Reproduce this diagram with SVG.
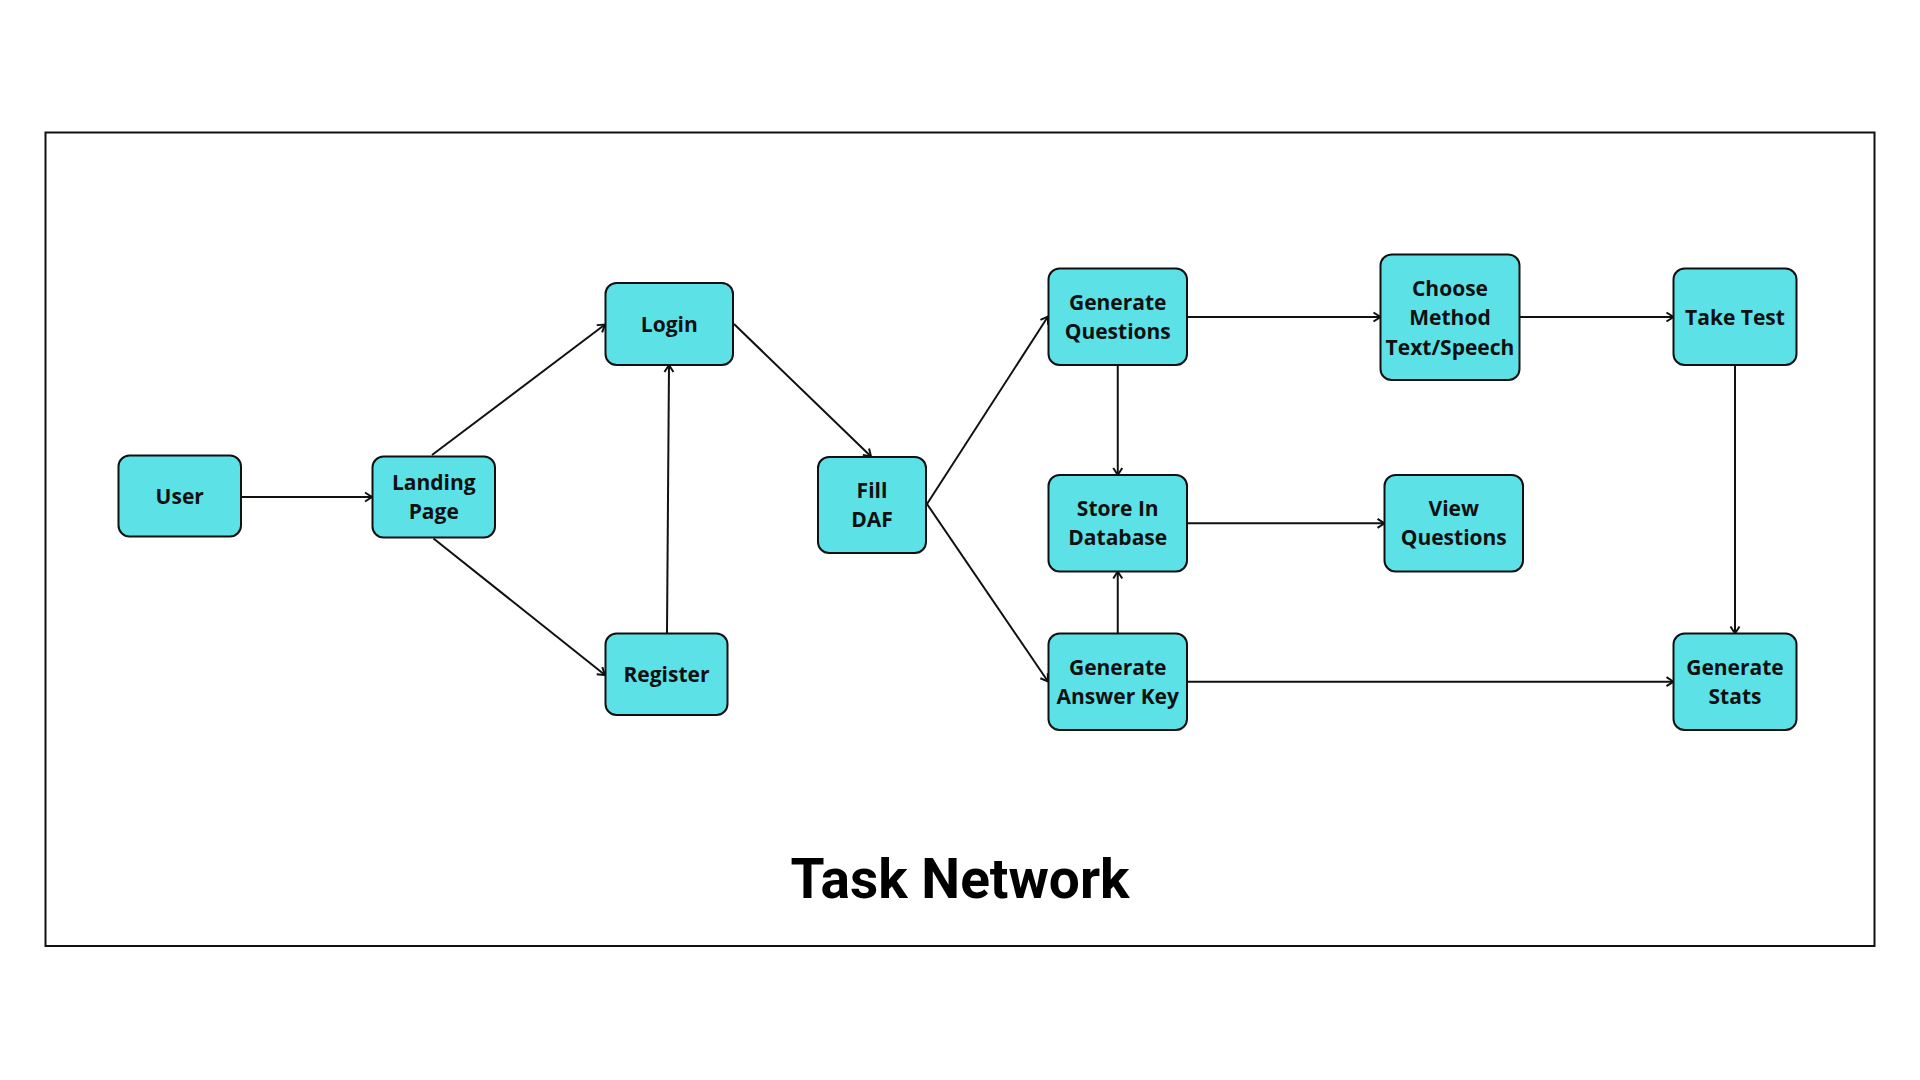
<svg xmlns="http://www.w3.org/2000/svg" width="1920" height="1080" viewBox="0 0 1920 1080">
<defs>
<marker id="arr" markerUnits="userSpaceOnUse" markerWidth="20" markerHeight="20" refX="0" refY="0" orient="auto" overflow="visible">
<path d="M-7,-4.5 L0,0 L-7,4.5" fill="none" stroke="#111" stroke-width="2" stroke-linejoin="miter"/>
</marker>
</defs>
<style>
.node rect{fill:#5ce1e6;stroke:#111;stroke-width:2}
.node text{font-family:"Open Sans","DejaVu Sans",sans-serif;font-weight:700;font-size:21px;fill:#111;text-anchor:middle}
.conn line{stroke:#111;stroke-width:2;marker-end:url(#arr)}
.title{font-family:Roboto,"Open Sans",sans-serif;font-weight:700;font-size:55px;fill:#000;text-anchor:middle}
</style>
<rect width="1920" height="1080" fill="#fff"/>
<rect x="45.5" y="132.5" width="1829" height="813.5" fill="none" stroke="#111" stroke-width="2"/>
<g id="connectors" class="conn">
<line x1="241" y1="497" x2="372" y2="497"/>
<line x1="432" y1="455" x2="605" y2="324.5"/>
<line x1="433.5" y1="538.5" x2="605" y2="675"/>
<line x1="667" y1="633" x2="669" y2="365"/>
<line x1="734" y1="324" x2="871" y2="456.5"/>
<line x1="927" y1="504" x2="1048" y2="316.5"/>
<line x1="927" y1="504" x2="1048" y2="681.5"/>
<line x1="1117.75" y1="365" x2="1117.75" y2="475"/>
<line x1="1117.75" y1="633.5" x2="1117.75" y2="571.5"/>
<line x1="1187" y1="317" x2="1380.5" y2="317"/>
<line x1="1519.5" y1="317" x2="1673.5" y2="317"/>
<line x1="1187" y1="523.3" x2="1384.5" y2="523.3"/>
<line x1="1187" y1="681.7" x2="1673.5" y2="681.7"/>
<line x1="1735" y1="365" x2="1735" y2="633.5"/>
</g>
<g id="user" class="node"><rect x="118.5" y="455.5" width="122.5" height="81" rx="11"/><text x="179.75" y="503.5">User</text></g>
<g id="landing-page" class="node"><rect x="372.5" y="456.5" width="122.5" height="81" rx="11"/><text x="433.75" y="490">Landing</text><text x="433.75" y="519">Page</text></g>
<g id="login" class="node"><rect x="605.5" y="283" width="127.5" height="82" rx="11"/><text x="669.25" y="331.7">Login</text></g>
<g id="register" class="node"><rect x="605.5" y="633.5" width="122" height="81.5" rx="11"/><text x="666.5" y="682">Register</text></g>
<g id="fill-daf" class="node"><rect x="818" y="457" width="108" height="96" rx="11"/><text x="872" y="498">Fill</text><text x="872" y="527">DAF</text></g>
<g id="generate-questions" class="node"><rect x="1048.5" y="268.5" width="138.5" height="96.5" rx="11"/><text x="1117.75" y="310">Generate</text><text x="1117.75" y="339">Questions</text></g>
<g id="store-in-database" class="node"><rect x="1048.5" y="475" width="138.5" height="96.5" rx="11"/><text x="1117.75" y="516">Store In</text><text x="1117.75" y="545">Database</text></g>
<g id="generate-answer-key" class="node"><rect x="1048.5" y="633.5" width="138.5" height="96.5" rx="11"/><text x="1117.75" y="674.5">Generate</text><text x="1117.75" y="703.5">Answer Key</text></g>
<g id="choose-method" class="node"><rect x="1380.5" y="254.5" width="139" height="125.5" rx="11"/><text x="1450" y="295.5">Choose</text><text x="1450" y="325">Method</text><text x="1450" y="354.5">Text/Speech</text></g>
<g id="view-questions" class="node"><rect x="1384.5" y="475" width="138.5" height="96.5" rx="11"/><text x="1453.75" y="516">View</text><text x="1453.75" y="545">Questions</text></g>
<g id="take-test" class="node"><rect x="1673.5" y="268.5" width="123" height="96.5" rx="11"/><text x="1735" y="324.5">Take Test</text></g>
<g id="generate-stats" class="node"><rect x="1673.5" y="633.5" width="123" height="96.5" rx="11"/><text x="1735" y="674.5">Generate</text><text x="1735" y="703.5">Stats</text></g>
<text class="title" x="960" y="898">Task Network</text>
</svg>
